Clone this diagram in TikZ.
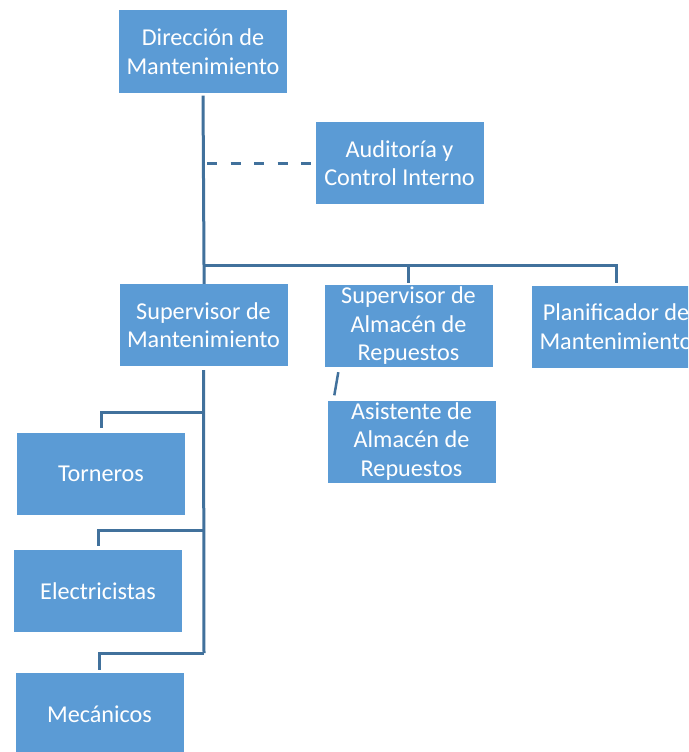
\documentclass[tikz,border=0pt]{standalone}
\usepackage{fontspec}
\setmainfont{Carlito}
\usetikzlibrary{calc}
\definecolor{boxblue}{HTML}{5B9BD5}
\definecolor{lineblue}{HTML}{41719C}
\begin{document}
\begin{tikzpicture}[x=1pt,y=-1pt,
  orgbox/.style={fill=boxblue, text=white, align=center, inner sep=0pt,
    minimum width=168pt, minimum height=82pt,
    font=\fontsize{24.2}{28.5}\selectfont},
  link/.style={draw=lineblue, line width=3pt},
  dottedlink/.style={link, dash pattern=on 10pt off 13.5pt}]
\useasboundingbox (0,0) rectangle (688,752);
\fill[white] (0,0) rectangle (688,752);
\clip (0,0) rectangle (688,752);

% boxes
\node[orgbox] (dir)  at (203,51.5)  {Dirección de\\Mantenimiento};
\node[orgbox] (aud)  at (399.5,163) {Auditoría y\\Control Interno};
\node[orgbox] (supm) at (203.5,325) {Supervisor de\\Mantenimiento};
\node[orgbox] (supa) at (408.5,326) {Supervisor de\\Almacén de\\Repuestos};
\node[orgbox] (plan) at (616,326.5) {Planificador de\\Mantenimiento};
\node[orgbox] (asis) at (411.5,441.5) {Asistente de\\Almacén de\\Repuestos};
\node[orgbox] (torn) at (101,473.5) {Torneros};
\node[orgbox] (elec) at (98,591)    {Electricistas};
\node[orgbox] (mec)  at (99.5,714)  {Mecánicos};

% top level bus
\coordinate (bus) at (204,265);
\draw[link, shorten <=3pt] (dir.south) -- (bus) -- (bus |- supm.north);
\draw[link, shorten >=2pt] (bus) -| (supa.north);
\draw[link, shorten >=2pt] (bus) -| (plan.north);

% staff line
\draw[dottedlink, shorten <=3pt, shorten >=3pt] (aud.west -| bus) -- (aud.west);

% assistant
\draw[link, line width=2.5pt] ($(supa.south west)+(14,5)$) -- ($(asis.north west)+(7,-5)$);

% crews under the maintenance supervisor
\coordinate (t1) at (204,412);
\coordinate (t2) at (204,530);
\coordinate (t3) at (204,653);
\draw[link, shorten <=4pt] (supm.south) -- (t3);
\draw[link, shorten >=4pt] (t1) -| (torn.north);
\draw[link, shorten >=4pt] (t2) -| (elec.north);
\draw[link, shorten >=3pt] (t3) -| (mec.north);
\end{tikzpicture}
\end{document}
